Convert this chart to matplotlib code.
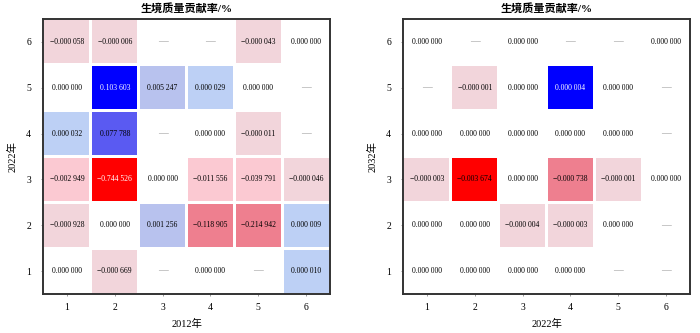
import numpy as np
import matplotlib
matplotlib.use("Agg")
import matplotlib.pyplot as plt
from matplotlib.patches import Rectangle

plt.rcParams['font.family'] = ['Liberation Serif', 'Noto Sans CJK SC']

rows = [6, 5, 4, 3, 2, 1]
cols = [1, 2, 3, 4, 5, 6]
title = "生境质量贡献率/%"

# None = no data (shown as a dash)
left_values = [
    [-0.000058, -0.000006, None, None, -0.000043, 0.000000],
    [0.000000, 0.103603, 0.005247, 0.000029, 0.000000, None],
    [0.000032, 0.077788, None, 0.000000, -0.000011, None],
    [-0.002949, -0.744526, 0.000000, -0.011556, -0.039791, -0.000046],
    [-0.000928, 0.000000, 0.001256, -0.118905, -0.214942, 0.000009],
    [0.000000, -0.000669, None, 0.000000, None, 0.000010],
]
right_values = [
    [0.000000, None, 0.000000, None, None, 0.000000],
    [None, -0.000001, 0.000000, 0.000004, 0.000000, None],
    [0.000000, 0.000000, 0.000000, 0.000000, 0.000000, None],
    [-0.000003, -0.003674, 0.000000, -0.000738, -0.000001, 0.000000],
    [0.000000, 0.000000, -0.000004, -0.000003, 0.000000, None],
    [0.000000, 0.000000, 0.000000, 0.000000, None, None],
]
left_xlabel, left_ylabel = "2012年", "2022年"
right_xlabel, right_ylabel = "2022年", "2032年"


def cell_color(v, vmin, vmax):
    if v is None or v == 0:
        return None
    if v < 0:
        r = v / vmin
        if r >= 0.5:
            return '#ff0000'
        if r >= 0.1:
            return '#ee7f8f'
        if r >= 0.003:
            return '#fbc9d2'
        return '#f2d5db'
    r = v / vmax
    if r >= 0.9:
        return '#0000ff'
    if r >= 0.5:
        return '#5a5af2'
    if r >= 0.003:
        return '#b8c2ee'
    return '#bdd0f5'


def fmt(v):
    s = f"{abs(v):.6f}"
    ip, dp = s.split('.')
    s = ip + '.' + dp[:3] + ' ' + dp[3:]
    return ('\u2212' + s) if v < 0 else s


def draw(ax, values, xlabel, ylabel):
    flat = [v for row in values for v in row if v is not None]
    vmin = min(flat)
    vmax = max(flat)
    for i, rname in enumerate(rows):
        for j, cname in enumerate(cols):
            v = values[i][j]
            c = cell_color(v, vmin, vmax)
            if c is not None:
                ax.add_patch(Rectangle((cname - 0.47, rname - 0.47), 0.94, 0.94,
                                       facecolor=c, edgecolor='none'))
            if v is None:
                ax.text(cname, rname, '—', ha='center', va='center',
                        fontsize=7, color='#999999')
            else:
                tc = 'black'
                if c == '#0000ff' or (c == '#ff0000' and abs(v) > 0.1):
                    tc = 'white'
                ax.text(cname, rname, fmt(v), ha='center', va='center',
                        fontsize=5.5, color=tc)
    ax.set_xlim(0.5, 6.5)
    ax.set_ylim(0.5, 6.5)
    ax.set_xticks(cols)
    ax.set_yticks(rows)
    ax.tick_params(length=1.5, width=0.6, labelsize=7, color='#888888')
    ax.tick_params(axis='x', pad=5)
    ax.tick_params(axis='y', pad=7)
    for s in ax.spines.values():
        s.set_linewidth(1.4)
        s.set_color('#333333')
    ax.set_title(title, fontsize=8, pad=5, fontweight='bold')
    ax.set_xlabel(xlabel, fontsize=7.5, labelpad=5)
    ax.set_ylabel(ylabel, fontsize=7.5, labelpad=6)


fig = plt.figure(figsize=(7, 3.33), dpi=100)
ax1 = fig.add_axes([43 / 700, 39 / 333, 287 / 700, 275 / 333])
ax2 = fig.add_axes([403 / 700, 39 / 333, 287 / 700, 275 / 333])
draw(ax1, left_values, left_xlabel, left_ylabel)
draw(ax2, right_values, right_xlabel, right_ylabel)
fig.savefig("out.png", dpi=100)
